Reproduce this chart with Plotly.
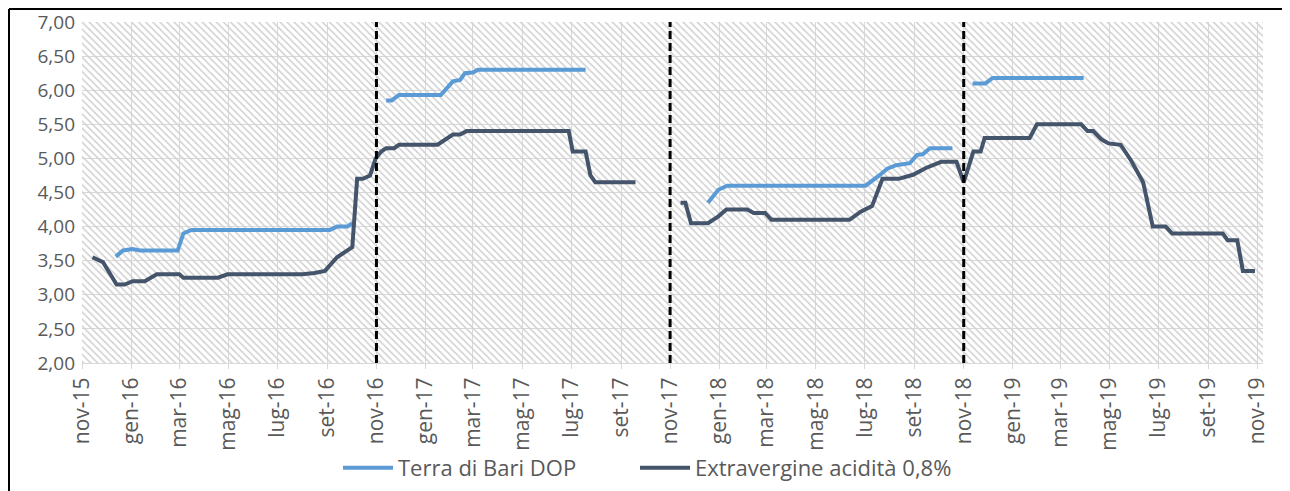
import plotly.graph_objects as go

# ---- data ----
dop_dates = [
    "2015-12-13", "2015-12-22", "2016-01-03", "2016-01-12", "2016-02-28", "2016-03-06",
    "2016-03-16", "2016-09-04", "2016-09-13", "2016-09-26", "2016-10-02", None,
    "2016-11-13", "2016-11-20", "2016-11-29", "2017-01-20", "2017-02-04", "2017-02-13",
    "2017-02-19", "2017-03-01", "2017-03-07", "2017-07-19", None,
    "2017-12-18", "2017-12-31", "2018-01-11", "2018-07-02", "2018-07-19", "2018-07-29",
    "2018-08-09", "2018-08-26", "2018-09-04", "2018-09-11", "2018-09-20", "2018-10-18", None,
    "2018-11-12", "2018-11-28", "2018-12-07", "2019-03-30",
]
dop_values = [
    3.56, 3.65, 3.67, 3.65, 3.65, 3.90,
    3.95, 3.95, 4.00, 4.00, 4.05, None,
    5.85, 5.85, 5.93, 5.93, 6.13, 6.15,
    6.25, 6.26, 6.30, 6.30, None,
    4.35, 4.54, 4.60, 4.60, 4.75, 4.85,
    4.90, 4.93, 5.05, 5.06, 5.15, 5.15, None,
    6.10, 6.10, 6.18, 6.18,
]

evo_dates = [
    "2015-11-14", "2015-11-27", "2015-12-14", "2015-12-24", "2016-01-03", "2016-01-18",
    "2016-02-02", "2016-03-01", "2016-03-06", "2016-04-18", "2016-04-30", "2016-08-01",
    "2016-08-16", "2016-08-29", "2016-09-13", "2016-10-02", "2016-10-08", "2016-10-15",
    "2016-10-24", "2016-10-31", "2016-11-07", "2016-11-13", "2016-11-23", "2016-11-29",
    "2017-01-16", "2017-02-04", "2017-02-13", "2017-02-21", "2017-06-28", "2017-07-03",
    "2017-07-19", "2017-07-25", "2017-07-31", "2017-09-19", None,
    "2017-11-14", "2017-11-20", "2017-11-27", "2017-12-18", "2017-12-31", "2018-01-10",
    "2018-02-05", "2018-02-13", "2018-02-27", "2018-03-07", "2018-06-12", "2018-06-26",
    "2018-07-10", "2018-07-23", "2018-08-12", "2018-08-30", "2018-09-15", "2018-10-04",
    "2018-10-23", "2018-11-01", "2018-11-13", "2018-11-22", "2018-11-27", "2019-01-22",
    "2019-01-31", "2019-03-27", "2019-04-04", "2019-04-11", "2019-04-21", "2019-04-30",
    "2019-05-15", "2019-05-28", "2019-06-12", "2019-06-24", "2019-07-10", "2019-07-18",
    "2019-09-19", "2019-09-25", "2019-10-07", "2019-10-14", "2019-10-29",
]
evo_values = [
    3.55, 3.48, 3.15, 3.15, 3.20, 3.20,
    3.30, 3.30, 3.25, 3.25, 3.30, 3.30,
    3.32, 3.35, 3.55, 3.70, 4.70, 4.70,
    4.75, 5.00, 5.10, 5.15, 5.15, 5.20,
    5.20, 5.35, 5.35, 5.40, 5.40, 5.10,
    5.10, 4.75, 4.65, 4.65, None,
    4.35, 4.35, 4.05, 4.05, 4.15, 4.25,
    4.25, 4.20, 4.20, 4.10, 4.10, 4.22,
    4.30, 4.70, 4.70, 4.76, 4.86, 4.95,
    4.95, 4.65, 5.10, 5.10, 5.30, 5.30,
    5.50, 5.50, 5.40, 5.40, 5.28, 5.22,
    5.20, 4.97, 4.65, 4.00, 4.00, 3.90,
    3.90, 3.80, 3.80, 3.35, 3.35,
]

tick_dates = [
    "2015-11-01", "2016-01-01", "2016-03-01", "2016-05-01", "2016-07-01", "2016-09-01",
    "2016-11-01", "2017-01-01", "2017-03-01", "2017-05-01", "2017-07-01", "2017-09-01",
    "2017-11-01", "2018-01-01", "2018-03-01", "2018-05-01", "2018-07-01", "2018-09-01",
    "2018-11-01", "2019-01-01", "2019-03-01", "2019-05-01", "2019-07-01", "2019-09-01",
    "2019-11-01",
]
tick_labels = [
    "nov-15", "gen-16", "mar-16", "mag-16", "lug-16", "set-16",
    "nov-16", "gen-17", "mar-17", "mag-17", "lug-17", "set-17",
    "nov-17", "gen-18", "mar-18", "mag-18", "lug-18", "set-18",
    "nov-18", "gen-19", "mar-19", "mag-19", "lug-19", "set-19",
    "nov-19",
]
season_starts = ["2016-11-01", "2017-11-01", "2018-11-01"]

x_range = ["2015-11-01", "2019-11-08"]
y_range = [2.0, 7.0]

FONT = "Open Sans"
TXT = "#595959"

fig = go.Figure()

# hatched plot background
fig.add_trace(go.Scatter(
    x=[x_range[0], x_range[1], x_range[1], x_range[0], x_range[0]],
    y=[y_range[0], y_range[0], y_range[1], y_range[1], y_range[0]],
    mode="lines", line=dict(width=0), fill="toself",
    fillcolor="rgba(0,0,0,0)",
    fillpattern=dict(shape="\\", size=5, solidity=0.3, fgcolor="#d0d0d0",
                     bgcolor="rgba(0,0,0,0)", fgopacity=1),
    hoverinfo="skip", showlegend=False,
))

fig.add_trace(go.Scatter(
    x=dop_dates, y=dop_values, mode="lines", name="Terra di Bari DOP",
    line=dict(color="#5B9BD5", width=4), connectgaps=False, legend="legend",
))
fig.add_trace(go.Scatter(
    x=evo_dates, y=evo_values, mode="lines", name="Extravergine acidità 0,8%",
    line=dict(color="#44546A", width=4), connectgaps=False, legend="legend2",
))

for d in season_starts:
    fig.add_shape(type="line", xref="x", yref="y", x0=d, x1=d, y0=y_range[0], y1=y_range[1],
                  line=dict(color="black", width=3, dash="8px,4px"))

W, H = 1282, 483
ML, MR, MT, MB = 74, 27, 14, 128
pw, ph = W - ML - MR, H - MT - MB

# outer frame (left and top edges visible)
fx = (1 - ML) / pw
fy = 1 + (MT - 1) / ph
fig.add_shape(type="line", xref="paper", yref="paper", x0=fx, x1=1.05, y0=fy, y1=fy,
              line=dict(color="black", width=2))
fig.add_shape(type="line", xref="paper", yref="paper", x0=fx, x1=fx, y0=fy, y1=-0.40,
              line=dict(color="black", width=2))

legend_common = dict(orientation="h", y=-0.308, yanchor="middle", xanchor="left",
                     font=dict(family=FONT, size=22, color=TXT), itemwidth=50,
                     bgcolor="rgba(0,0,0,0)")

fig.update_layout(
    width=W, height=H,
    margin=dict(l=ML, r=MR, t=MT, b=MB, autoexpand=False),
    paper_bgcolor="white", plot_bgcolor="white",
    separators=",.",
    font=dict(family=FONT, color=TXT, size=18),
    showlegend=True,
    legend=dict(x=(330 - ML) / pw, **legend_common),
    legend2=dict(x=(627 - ML) / pw, **legend_common),
    xaxis=dict(
        type="date", range=x_range, tickmode="array", tickvals=tick_dates, ticktext=tick_labels,
        tickangle=-90, showgrid=True, gridcolor="#D9D9D9", gridwidth=1,
        showline=True, linecolor="#D9D9D9", linewidth=1, automargin=False,
        ticks="outside", ticklen=5, tickcolor="#D9D9D9",
        tickfont=dict(family=FONT, size=21, color=TXT), zeroline=False,
    ),
    yaxis=dict(
        range=y_range, dtick=0.5, tick0=2, tickformat=".2f", showgrid=True,
        gridcolor="#D9D9D9", gridwidth=1, zeroline=False, showline=False, automargin=False,
        ticks="", ticklabelstandoff=6, tickfont=dict(family=FONT, size=19, color=TXT),
    ),
)

fig.write_html("out.html")
